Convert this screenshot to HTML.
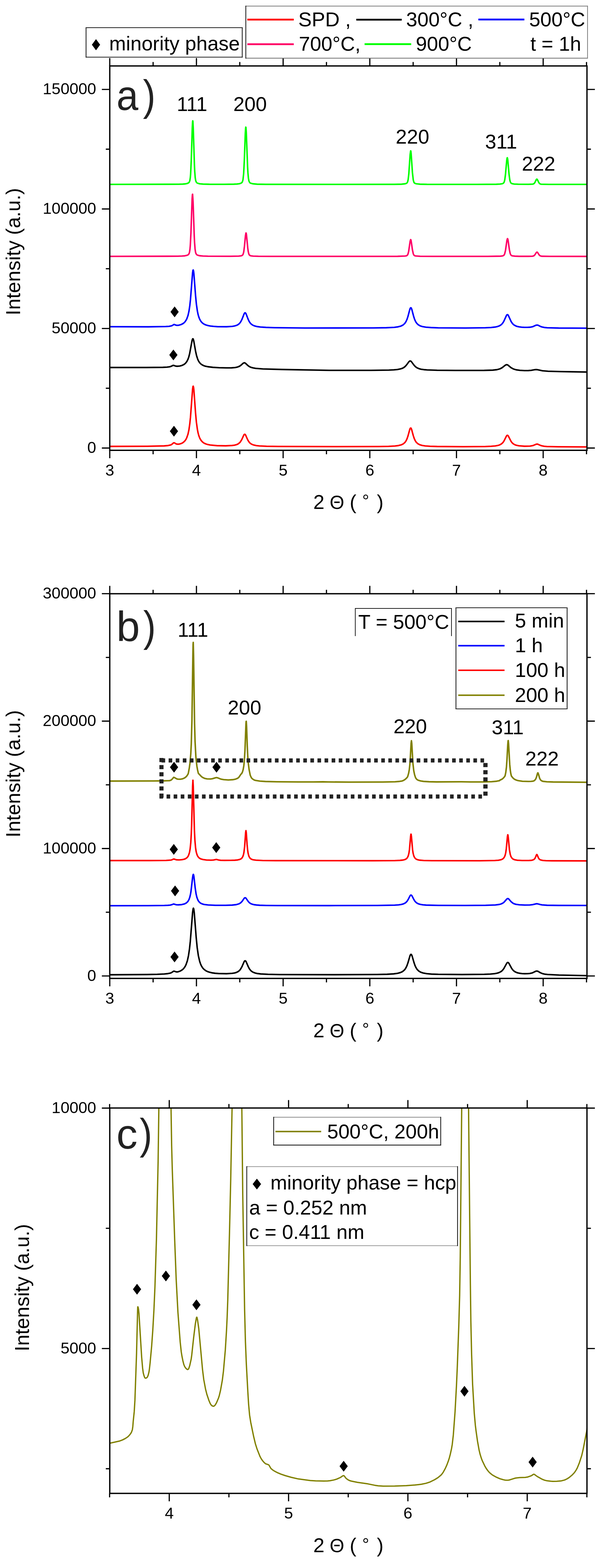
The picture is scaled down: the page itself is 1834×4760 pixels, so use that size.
<!DOCTYPE html><html><head><meta charset="utf-8"><style>html,body{margin:0;padding:0;background:#fff;}svg{display:block;}</style></head><body>
<svg width="1834" height="4760" viewBox="0 0 1834 4760" font-family="Liberation Sans, Arial, sans-serif" fill="#000">
<rect width="1834" height="4760" fill="#fff"/>
<defs>
<clipPath id="ca"><rect x="333.3" y="200.2" width="1449" height="1166.8"/></clipPath>
<clipPath id="cb"><rect x="333.3" y="1802.4" width="1449" height="1167.8"/></clipPath>
<clipPath id="cc"><rect x="333.3" y="3363.6" width="1449" height="1169.9"/></clipPath>
</defs>
<path d="M333.3 559.8L542.3 559.3L554.8 558.9L563.3 558.1L568.8 556.9L572.8 554.9L574.8 552.6L576.3 548.7L577.8 539.7L578.8 528.5L580.8 486.2L583.8 388.9L584.8 369.4L585.3 366.8L585.8 369.4L586.8 388.9L590.3 499.5L591.3 520.6L592.8 539.7L594.3 548.7L596.3 553.4L597.8 554.9L599.8 556.1L606.3 558L616.8 558.9L635.8 559.4L680.3 559.5L709.8 559.1L719.8 558.6L726.8 557.7L731.8 556.1L734.8 553.9L736.3 551.2L737.8 545.5L739.8 527.3L741.8 488.6L744.8 405.8L745.8 388.8L746.3 385.9L746.8 387.1L747.8 401.4L751.8 506.8L752.8 524.5L754.3 541L755.8 549.1L757.8 553.6L759.3 555.1L761.3 556.3L767.3 557.9L780.8 559.1L807.8 559.6L1021.3 559.8L1197.3 559.6L1219.3 559.1L1230.3 557.9L1234.3 556.6L1236.3 554.7L1237.8 551.6L1239.3 545.3L1241.3 528.3L1245.3 469.5L1246.8 458L1247.3 458.2L1248.3 464.9L1252.3 523.5L1254.8 545.9L1256.3 551.9L1257.8 554.9L1260.3 556.9L1264.3 558L1275.3 559.1L1296.3 559.6L1447.8 559.7L1506.8 559.4L1518.3 558.8L1525.3 557.7L1527.8 556.7L1529.8 554.7L1531.3 551.4L1532.8 545.1L1534.8 529.9L1538.8 485.4L1539.8 479.6L1540.3 478.8L1540.8 479.6L1541.8 485.4L1545.8 529.9L1547.8 545.1L1548.8 549.7L1550.3 553.8L1551.8 555.9L1554.3 557.4L1561.3 558.7L1573.8 559.3L1604.3 559.5L1617.8 559L1620.8 557.9L1622.8 556L1624.8 552.7L1628.3 545.2L1629.8 543.8L1630.8 544.1L1631.8 545.4L1635.8 553.8L1637.8 556.7L1640.3 558.5L1643.3 559.2L1667.3 559.7L1782.3 559.8" fill="none" stroke="#00ff00" stroke-width="4.6" stroke-linejoin="round" stroke-linecap="round" clip-path="url(#ca)"/>
<path d="M333.3 778.2L539.8 777.8L552.8 777.3L561.3 776.6L567.3 775.3L571.3 773.5L573.8 770.5L575.3 766.2L576.8 756.9L577.8 745.8L579.8 706.2L583.3 604L584.3 590.1L584.8 589.6L586.3 613.5L589.8 716.1L590.8 736.5L592.3 756L593.8 765.8L594.8 769.2L596.3 771.9L597.8 773.4L600.3 774.8L606.8 776.4L616.3 777.3L631.3 777.8L698.8 778L724.8 777.5L731.3 776.8L734.8 775.7L736.3 774.7L737.8 772.5L739.3 768.1L740.3 763.2L742.3 747.3L745.3 715.4L746.8 707.3L747.3 707.5L748.3 712.2L752.3 753L753.8 763.8L755.3 770.3L756.8 773.6L758.8 775.5L762.3 776.7L768.8 777.5L784.8 778L819.3 778.2L1131.8 778.3L1207.3 778.1L1229.8 777.3L1233.3 776.8L1235.8 775.7L1237.3 774.2L1238.8 771.2L1240.8 763.5L1245.3 732.6L1246.8 727.4L1247.3 727.5L1248.3 730.5L1252.3 758.3L1254.8 770L1255.8 772.6L1257.3 774.9L1259.3 776.3L1261.8 777L1275.8 778L1312.8 778.3L1481.3 778.2L1519.8 777.6L1525.3 777L1528.3 776.1L1530.8 773.9L1532.3 770.9L1534.8 760.8L1539.3 729.4L1540.8 724.4L1541.3 724.5L1541.8 725.5L1542.8 730L1546.8 758.4L1548.8 768.1L1549.8 771.2L1551.3 774.1L1553.3 775.9L1555.8 776.8L1563.3 777.6L1576.8 778.1L1605.3 778.1L1617.3 777.7L1620.3 776.8L1622.3 775.5L1624.3 773.2L1628.3 767L1630.3 765.3L1631.3 765.6L1632.3 766.5L1636.8 773.4L1638.8 775.6L1641.3 777.1L1645.3 777.9L1670.3 778.3L1782.3 778.4" fill="none" stroke="#ff0066" stroke-width="4.6" stroke-linejoin="round" stroke-linecap="round" clip-path="url(#ca)"/>
<path d="M333.3 991.8L450.3 992.1L502.8 991.3L512.8 990.7L519.3 989.6L522.8 988.4L528.3 985L529.8 985.2L533.3 986.8L535.8 987.5L538.8 987.6L542.8 987.2L550.3 985.1L556.3 981.9L559.3 979.5L562.3 976.3L566.8 969L570.8 957.9L573.8 944.6L576.3 928L578.3 909.7L584.8 827.9L585.8 821.2L586.3 819.8L586.8 819.6L587.8 823.4L588.8 831.8L593.8 897.4L596.3 923.1L599.3 944.2L601.3 953.8L603.3 961.1L605.8 967.9L608.3 972.8L611.3 977.1L615.3 981.1L619.8 984.1L624.8 986.4L631.3 988.3L638.8 989.7L648.3 990.8L660.3 991.6L687.8 991.9L705.8 990.7L712.3 989.5L717.8 987.9L721.3 986.3L724.8 984L727.8 981.1L730.3 977.9L734.3 970.5L741.3 952.6L742.8 950.2L744.3 949.4L745.8 950.5L747.3 953.1L753.3 968.8L756.3 975.2L759.3 979.9L762.3 983.3L767.3 987L773.3 989.6L780.8 991.4L790.8 992.7L807.8 993.9L833.8 994.7L926.3 995.7L1132.8 995.5L1173.3 994.9L1197.3 993.7L1208.8 992.1L1217.3 989.9L1223.8 986.6L1228.8 982.1L1232.3 977.1L1235.8 969.6L1238.8 960.4L1244.3 939.5L1245.8 935.6L1247.3 934.1L1248.8 935.2L1250.3 938.9L1255.8 959.7L1258.8 969.1L1261.8 975.9L1265.3 981.3L1269.8 985.7L1275.8 989.2L1283.3 991.6L1293.3 993.2L1308.8 994.4L1330.8 995.2L1412.8 995.7L1473.8 995L1490.8 994.2L1502.8 992.9L1509.8 991.5L1515.3 989.6L1519.8 987.2L1523.8 983.9L1526.8 980.3L1529.8 975.4L1537.8 957.7L1539.3 955.7L1540.8 955.1L1542.3 955.9L1543.8 958.1L1551.8 975.7L1554.3 979.8L1557.3 983.5L1560.8 986.6L1565.3 989.1L1570.3 991L1576.3 992.3L1583.8 993.3L1592.3 993.8L1601.3 993.8L1608.8 993.4L1617.8 991.7L1627.8 987.2L1630.8 986.7L1633.8 987.3L1641.3 991.1L1646.3 992.8L1652.8 994.1L1661.8 995L1696.3 995.9L1782.3 996.2" fill="none" stroke="#0000ff" stroke-width="4.6" stroke-linejoin="round" stroke-linecap="round" clip-path="url(#ca)"/>
<path d="M333.3 1115.6L443.3 1115.6L494.3 1115.1L507.3 1114.5L514.8 1113.5L519.3 1112.2L525.8 1109.1L527.8 1109.3L533.3 1111.4L537.8 1111.9L545.3 1111.2L552.3 1109.4L558.3 1106.6L563.3 1102.7L567.3 1097.5L570.8 1090.6L573.3 1083.4L575.8 1073.6L583.3 1033.2L584.8 1028.9L585.8 1028.3L586.8 1029.7L588.3 1034.9L593.8 1065.9L596.8 1079.5L600.3 1090.4L602.3 1094.9L604.8 1099.1L607.8 1102.9L610.8 1105.6L614.3 1107.9L618.8 1110.1L623.8 1111.7L630.3 1113.1L646.3 1115.1L665.3 1116.3L687.3 1116.8L703.3 1116.6L714.3 1115.7L721.3 1114.2L726.8 1112L731.3 1109L738.3 1102.8L740.3 1101.7L741.8 1101.3L743.3 1101.6L745.3 1102.7L752.3 1109.2L755.8 1112L759.3 1113.9L763.3 1115.6L769.3 1117.1L776.3 1118.3L798.3 1120L855.8 1121.6L999.8 1124.3L1126.3 1124.2L1180.8 1123.5L1195.8 1122.8L1206.8 1121.7L1215.3 1120.1L1221.8 1118L1226.3 1115.6L1230.3 1112.4L1234.3 1108L1241.8 1097.9L1243.8 1096.2L1245.3 1095.7L1247.3 1096.2L1249.3 1098L1256.3 1107.5L1260.3 1112.1L1263.8 1115L1267.3 1117.1L1272.3 1119.2L1278.8 1120.9L1286.8 1122.1L1297.3 1123L1327.3 1124L1381.8 1124.5L1470.3 1124.4L1496.3 1123.6L1509.3 1122.1L1518.3 1119.6L1524.8 1116.1L1534.8 1108.2L1538.3 1107L1540.3 1107.3L1542.3 1108.4L1551.8 1116.2L1558.8 1120.1L1567.3 1122.6L1578.8 1124.3L1592.3 1125L1604.8 1124.9L1612.8 1124.2L1623.8 1122.2L1627.8 1121.9L1631.8 1122.3L1646.8 1125.5L1664.3 1127L1700.3 1128L1782.3 1129.4" fill="none" stroke="#000000" stroke-width="4.6" stroke-linejoin="round" stroke-linecap="round" clip-path="url(#ca)"/>
<path d="M333.3 1355.1L447.3 1354.7L498.3 1353.6L510.3 1352.6L517.3 1351.1L521.3 1349.3L526.3 1345L527.8 1344.1L529.8 1344.4L533.3 1346.7L535.8 1347.9L540.8 1348.5L544.8 1348L548.8 1346.9L552.8 1345.3L556.3 1343.1L559.3 1340.6L562.3 1337.3L564.8 1333.5L566.8 1329.5L570.8 1317.9L573.8 1303.9L576.3 1286.4L578.3 1267.2L584.8 1181.1L585.8 1174.1L586.3 1172.6L586.8 1172.4L587.8 1176.3L588.8 1185.2L593.8 1254.2L596.3 1281.2L599.3 1303.3L601.3 1313.5L603.3 1321.2L605.8 1328.3L608.3 1333.4L611.3 1337.9L615.3 1342.1L619.8 1345.3L624.8 1347.6L631.3 1349.6L638.8 1351L658.8 1352.9L685.3 1353.4L704.8 1352.4L711.8 1351.5L717.3 1350.1L721.3 1348.5L724.3 1346.8L729.3 1342.2L733.8 1335.1L740.3 1320.7L741.8 1318.7L742.8 1318.2L744.3 1318.8L745.8 1320.9L751.3 1333.4L754.3 1339L757.3 1343.2L760.3 1346.1L764.8 1348.9L770.8 1351.1L778.3 1352.7L787.8 1353.7L809.3 1354.7L845.3 1355.3L1021.8 1355.8L1150.8 1355.5L1179.8 1355L1198.8 1354L1209.8 1352.6L1218.3 1350.5L1224.3 1347.6L1229.3 1343.4L1232.8 1338.5L1235.8 1332.3L1238.8 1323.5L1244.3 1303.4L1245.8 1300L1246.8 1299.2L1247.3 1299.2L1248.3 1300.2L1249.8 1303.7L1254.8 1322.1L1257.8 1331.3L1260.8 1337.8L1263.8 1342.4L1268.3 1346.7L1274.3 1350L1281.8 1352.2L1291.3 1353.7L1305.8 1354.7L1327.3 1355.4L1406.8 1356L1473.8 1355.5L1491.3 1354.8L1503.8 1353.7L1510.3 1352.6L1515.8 1351.1L1520.3 1349L1524.3 1346.2L1527.3 1343.1L1530.3 1338.7L1537.8 1323.8L1539.3 1322L1540.8 1321.4L1541.8 1321.7L1543.3 1323.4L1551.3 1339L1553.8 1342.7L1556.8 1345.9L1560.3 1348.5L1564.3 1350.5L1569.3 1352.1L1575.3 1353.3L1592.3 1354.6L1609.3 1354.2L1617.8 1352.8L1627.8 1348.7L1630.8 1348.1L1633.8 1348.8L1640.8 1352L1645.8 1353.6L1652.3 1354.8L1660.8 1355.5L1694.8 1356.3L1782.3 1356.7" fill="none" stroke="#ff0000" stroke-width="4.6" stroke-linejoin="round" stroke-linecap="round" clip-path="url(#ca)"/>
<path d="M530.2 930.3L542.7 946.8L530.2 963.3L517.7 946.8Z" fill="#000"/>
<path d="M526.5 1061L539 1077.5L526.5 1094L514 1077.5Z" fill="#000"/>
<path d="M528.2 1292.5L540.7 1309L528.2 1325.5L515.7 1309Z" fill="#000"/>
<rect x="333.3" y="200.2" width="1449" height="1166.8" fill="none" stroke="#000" stroke-width="4.0"/>
<path d="M333.3 1367V1391M333.3 200.2V176.2M596.5 1367V1391M596.5 200.2V176.2M859.7 1367V1391M859.7 200.2V176.2M1122.9 1367V1391M1122.9 200.2V176.2M1386.1 1367V1391M1386.1 200.2V176.2M1649.3 1367V1391M1649.3 200.2V176.2M464.9 1367V1379M464.9 200.2V188.2M728.1 1367V1379M728.1 200.2V188.2M991.3 1367V1379M991.3 200.2V188.2M1254.5 1367V1379M1254.5 200.2V188.2M1517.7 1367V1379M1517.7 200.2V188.2M1780.9 1367V1379M1780.9 200.2V188.2M333.3 1360.1H309.3M1782.3 1360.1H1806.3M333.3 997.21H309.3M1782.3 997.21H1806.3M333.3 634.33H309.3M1782.3 634.33H1806.3M333.3 271.44H309.3M1782.3 271.44H1806.3M333.3 1178.66H321.3M1782.3 1178.66H1794.3M333.3 815.77H321.3M1782.3 815.77H1794.3M333.3 452.89H321.3M1782.3 452.89H1794.3" stroke="#000" stroke-width="3.6" fill="none"/>
<text x="333.3" y="1443.9" text-anchor="middle" font-size="48.6">3</text>
<text x="596.5" y="1443.9" text-anchor="middle" font-size="48.6">4</text>
<text x="859.7" y="1443.9" text-anchor="middle" font-size="48.6">5</text>
<text x="1122.9" y="1443.9" text-anchor="middle" font-size="48.6">6</text>
<text x="1386.1" y="1443.9" text-anchor="middle" font-size="48.6">7</text>
<text x="1649.3" y="1443.9" text-anchor="middle" font-size="48.6">8</text>
<text x="292" y="1375.1" text-anchor="end" font-size="48.6">0</text>
<text x="292" y="1012.21" text-anchor="end" font-size="48.6">50000</text>
<text x="292" y="649.33" text-anchor="end" font-size="48.6">100000</text>
<text x="292" y="286.44" text-anchor="end" font-size="48.6">150000</text>
<text x="353.5" y="334.4" font-size="128" fill="#222" transform="translate(358.5 0) scale(0.93 1) translate(-358.5 0)">a</text>
<text x="434" y="334.4" font-size="130" fill="#222" transform="translate(434 0) scale(0.88 1) translate(-434 0)">)</text>
<text x="583" y="336.7" font-size="61" text-anchor="middle">111</text>
<text x="759.3" y="336.7" font-size="61" text-anchor="middle">200</text>
<text x="1252.5" y="435.7" font-size="61" text-anchor="middle">220</text>
<text x="1521.5" y="450.7" font-size="61" text-anchor="middle">311</text>
<text x="1635.3" y="517.7" font-size="61" text-anchor="middle">222</text>
<rect x="261.3" y="84" width="474.2" height="89.5" fill="#fff"/>
<path d="M260.2 84H736.6" stroke="#000" stroke-width="2.2"/>
<path d="M260.2 173.5H736.6" stroke="#000" stroke-width="2.2"/>
<path d="M261.3 82.9V174.6" stroke="#000" stroke-width="2.2"/>
<path d="M735.5 82.9V174.6" stroke="#000" stroke-width="2.2"/>
<path d="M291.5 118.7L304 135.7L291.5 152.7L279 135.7Z" fill="#000"/>
<text x="331.6" y="153" font-size="61">minority phase</text>
<rect x="746.4" y="18.5" width="1037.6" height="158.1" fill="#fff"/>
<path d="M745.3 18.5H1785.1" stroke="#666" stroke-width="2.2"/>
<path d="M745.3 176.6H1785.1" stroke="#6a6a6a" stroke-width="2.2"/>
<path d="M746.4 17.4V177.7" stroke="#000" stroke-width="2.2"/>
<path d="M1784 17.4V177.7" stroke="#777" stroke-width="2.2"/>
<path d="M751 59.6H892" stroke="#ff0000" stroke-width="5.5"/>
<path d="M1081.8 59.7H1219.8" stroke="#000000" stroke-width="5.5"/>
<path d="M1452.5 59.2H1592.2" stroke="#0000ff" stroke-width="5.5"/>
<path d="M751 134.3H892" stroke="#ff0066" stroke-width="5.5"/>
<path d="M1107 134.1H1248.6" stroke="#00ff00" stroke-width="5.5"/>
<text x="905.8" y="79.6" font-size="61">SPD ,</text>
<text x="1233.3" y="79.6" font-size="61">300°C ,</text>
<text x="1606.7" y="79.6" font-size="61">500°C</text>
<text x="907.5" y="154" font-size="61">700°C,</text>
<text x="1262.4" y="154" font-size="61">900°C</text>
<text x="1610.4" y="154" font-size="61">t = 1h</text>
<text y="1544.7" font-size="61"><tspan x="951.3">2</tspan><tspan x="1000.9" font-size="57">Θ</tspan><tspan x="1061.8">(</tspan><tspan x="1099.9" y="1538.3" font-size="52">°</tspan><tspan x="1144.3" y="1544.7">)</tspan></text>
<text transform="translate(60.6 764) rotate(-90)" text-anchor="middle" font-size="61">Intensity (a.u.)</text>
<path d="M333.3 2371.1L465.3 2370.8L497.3 2370.4L513.3 2369.9L515.8 2369.6L520.3 2367.7L524.8 2363L526.8 2359.9L527.3 2359.8L529.8 2360.4L535.8 2364L539.3 2365.2L547.3 2365.5L553.3 2364.6L558.3 2362.7L562.8 2360L566.3 2356.8L569.3 2352.7L571.3 2349.2L572.3 2344.7L574.8 2331.4L576.8 2317.2L579.3 2288.6L580.8 2258.9L582.8 2186.9L585.8 1978.2L586.3 1955.6L586.8 1950L587.8 1990.9L590.8 2196.5L592.3 2251L594.8 2298.3L597.8 2325.6L599.8 2336.9L602.3 2347.7L611.8 2357.6L615.8 2360.4L621.3 2362.9L628.8 2364.5L639.3 2364.8L644.8 2364L653.8 2361.2L657.3 2360.6L661.8 2361.6L671.3 2365.3L679.3 2366.8L693.3 2367.8L706.8 2366.9L715.3 2365.2L719.8 2363.4L722.8 2361.7L725.3 2359.6L731.8 2350L733.8 2348.4L736.3 2343.4L738.3 2336.4L740.3 2324.8L741.8 2310.7L743.8 2278.3L746.8 2197.3L747.3 2190.4L747.8 2189.7L748.8 2206.5L750.8 2264.2L752.3 2295.8L753.8 2315.8L756.3 2335.8L759.8 2353.4L763.3 2361.1L765.8 2363.8L770.3 2367L773.3 2368.4L776.8 2369.2L789.3 2371.2L806.3 2372.4L840.8 2373.2L906.8 2373.8L951.3 2373.8L980.8 2373.4L996.8 2373.8L1059.3 2374.2L1162.3 2374L1199.8 2373.2L1213.3 2372.1L1220.8 2370.9L1224.8 2369.3L1228.8 2367L1231.8 2364.7L1235.8 2360.6L1237.3 2358.5L1238.3 2356.1L1240.8 2347.2L1242.8 2336.1L1244.3 2322.8L1245.8 2302.3L1248.3 2256.1L1249.3 2248.5L1250.3 2256.1L1253.8 2316.9L1256.3 2339.5L1258.8 2351.6L1261.8 2360.9L1264.8 2365.3L1269.3 2368.4L1277.3 2370.8L1286.3 2372.1L1302.8 2373.1L1325.3 2373.6L1400.8 2373.3L1429.3 2373.8L1467.3 2373.8L1492.8 2373L1507.8 2371.6L1517.3 2369.8L1517.8 2368.4L1524.3 2365.3L1527.3 2363L1530.3 2359.9L1533.3 2355.9L1533.8 2354.2L1535.8 2344.8L1537.8 2328.2L1539.3 2307.7L1541.8 2259.9L1542.8 2248.6L1543.3 2248.2L1544.3 2258.3L1547.8 2321L1549.3 2336.9L1550.8 2347.1L1552.3 2353.9L1553.3 2356.6L1558.3 2362.5L1561.3 2364.9L1564.3 2366.7L1568.3 2368.4L1573.3 2369.8L1586.3 2371.7L1604.8 2372.3L1612.8 2372L1619.3 2371.2L1623.3 2369.1L1626.3 2365.6L1628.8 2359.7L1631.8 2348.5L1632.8 2346.3L1633.3 2346.1L1634.8 2349.2L1638.3 2361.8L1640.3 2366.1L1641.8 2368.1L1643.8 2369.8L1648.3 2371.9L1660.3 2373.2L1679.3 2373.9L1782.3 2374.7" fill="none" stroke="#808000" stroke-width="4.6" stroke-linejoin="round" stroke-linecap="round" clip-path="url(#cb)"/>
<path d="M333.3 2612.4L456.3 2612.4L504.3 2612L518.8 2611L521.8 2610.3L526.8 2607.9L528.3 2607.7L535.3 2610.1L543.8 2610.5L552.3 2609.8L558.8 2608.5L563.8 2606.5L567.8 2603.6L570.3 2600.7L572.3 2597.2L575.3 2588.1L577.3 2577.2L579.3 2557.7L580.8 2532.3L581.8 2506.7L584.8 2387L585.8 2368.6L586.8 2387L590.3 2520.6L591.8 2550.6L593.8 2573.4L595.3 2583.4L596.8 2590.1L598.8 2596.1L600.8 2599.9L603.3 2603.2L606.8 2605.9L610.8 2607.8L616.3 2609.3L626.8 2610.7L640.8 2611.2L648.3 2610.7L656.8 2608.9L663.8 2610.8L669.8 2611.6L681.8 2611.9L700.3 2611.8L712.8 2611.4L721.3 2610.6L727.3 2609.3L731.8 2607.2L734.8 2604.5L737.3 2600.3L739.3 2594.4L740.8 2587L742.8 2570L745.8 2527.7L746.8 2521.6L747.8 2527.7L750.3 2564L751.8 2579.9L753.3 2589.9L755.3 2597.8L756.8 2601.4L758.3 2603.9L760.3 2606.1L762.3 2607.6L764.8 2608.9L768.3 2610L777.3 2611.3L797.3 2612.2L837.8 2612.6L1132.3 2612.9L1199.3 2612.5L1214.3 2611.9L1223.8 2610.9L1229.8 2609.3L1234.3 2606.7L1237.3 2603.1L1239.8 2597.5L1241.8 2589.2L1243.3 2579L1246.8 2538.7L1247.8 2532.2L1248.3 2532.5L1249.3 2539.8L1252.8 2579.8L1254.3 2589.8L1256.3 2597.8L1258.8 2603.3L1262.3 2607.2L1266.8 2609.5L1273.3 2611.1L1286.8 2612.2L1311.8 2612.7L1457.3 2613L1502.3 2612.3L1513.3 2611.5L1520.8 2610.1L1525.8 2608L1529.3 2605.1L1532.3 2600.2L1534.3 2594.4L1535.8 2587.4L1537.3 2576.8L1540.8 2539.1L1541.8 2534.2L1542.3 2534.9L1543.3 2541.9L1546.8 2579.3L1549.3 2593.6L1551.3 2599.8L1553.8 2604.2L1557.3 2607.6L1561.8 2609.7L1570.8 2611.5L1585.3 2612.3L1605.3 2612.3L1611.8 2611.9L1616.3 2611.2L1620.3 2609.7L1623.3 2607.2L1625.3 2604L1628.8 2595.4L1629.8 2594.1L1630.3 2594.2L1631.3 2595.6L1634.8 2604.2L1637.3 2607.9L1639.3 2609.5L1641.3 2610.6L1647.8 2612L1657.8 2612.7L1675.8 2613.1L1782.3 2613.4" fill="none" stroke="#ff0000" stroke-width="4.6" stroke-linejoin="round" stroke-linecap="round" clip-path="url(#cb)"/>
<path d="M333.3 2749.5L449.8 2749.3L498.8 2748.8L509.8 2748.3L516.3 2747.7L520.3 2746.8L526.8 2744.3L528.8 2744.6L534.8 2746.5L541.3 2746.9L551.8 2746.1L560.3 2744L565.8 2741.1L570.3 2736.8L573.8 2730.8L576.3 2723.7L578.3 2715.3L579.8 2706.7L584.8 2664.1L585.8 2657.4L586.8 2654.4L587.3 2654.5L587.8 2655.7L588.8 2661.1L592.8 2696.4L595.3 2713.2L597.8 2724L600.8 2732L602.8 2735.5L605.3 2738.6L608.3 2741.2L611.3 2742.9L615.3 2744.5L619.8 2745.7L632.3 2747.3L654.3 2748.2L684.8 2748.3L704.8 2747.6L717.8 2746.1L725.3 2743.9L730.8 2740.7L734.8 2736.6L741.3 2727.2L742.8 2725.7L744.3 2725.2L745.8 2725.7L747.3 2727.2L752.8 2735.3L755.8 2738.9L758.8 2741.5L761.8 2743.3L766.3 2745.1L771.8 2746.4L779.3 2747.4L788.8 2748.1L808.8 2748.7L841.8 2749L999.3 2749.1L1145.8 2748.8L1198.3 2747.8L1209.8 2747L1218.3 2745.8L1224.8 2744L1229.8 2741.6L1233.3 2738.9L1236.3 2735.5L1239.3 2730.8L1244.8 2720L1246.3 2717.9L1247.8 2717.1L1249.3 2717.6L1250.8 2719.4L1256.8 2731L1259.8 2735.7L1262.8 2739L1265.8 2741.4L1270.3 2743.7L1276.3 2745.5L1283.8 2746.7L1293.8 2747.6L1330.8 2748.5L1411.8 2748.7L1474.3 2748.3L1503.8 2747.2L1516.3 2745.6L1520.8 2744.4L1524.8 2742.7L1527.8 2740.9L1530.8 2738.4L1538.8 2729.4L1540.3 2728.2L1541.8 2727.8L1543.3 2728.1L1544.8 2729.2L1552.8 2738.2L1558.3 2742.3L1561.8 2743.8L1566.3 2745.2L1577.3 2746.8L1593.3 2747.5L1608.8 2747.3L1617.3 2746.3L1626.8 2743.9L1629.8 2743.5L1632.8 2743.9L1640.8 2746L1645.8 2747L1661.3 2748.1L1695.8 2748.6L1782.3 2748.7" fill="none" stroke="#0000ff" stroke-width="4.6" stroke-linejoin="round" stroke-linecap="round" clip-path="url(#cb)"/>
<path d="M333.3 2959.1L445.8 2958.4L477.3 2957.7L498.8 2956.7L509.8 2955.6L516.8 2954.2L520.8 2952.6L525.8 2949.1L527.8 2948.2L529.3 2948.3L535.3 2950.4L538.3 2950.4L541.3 2949.9L547.8 2947.6L553.8 2943.8L556.8 2941.1L559.8 2937.4L562.3 2933.5L564.8 2928.4L568.8 2916.9L572.3 2901.2L575.3 2881.2L577.8 2858L584.8 2770.1L586.3 2759.2L587.3 2757L588.3 2759.2L589.8 2770.1L595.8 2846.8L598.8 2877.1L602.3 2901.2L606.3 2918.6L609.3 2927.2L612.3 2933.5L615.8 2938.8L619.8 2943L624.8 2946.7L630.3 2949.5L636.8 2951.6L644.8 2953.4L653.3 2954.6L663.8 2955.4L687.8 2955.9L705.3 2954.8L711.8 2953.8L717.3 2952.2L720.8 2950.7L724.3 2948.5L727.3 2945.9L729.8 2943L734.3 2935.4L741.3 2919.4L742.8 2917.2L744.3 2916.5L745.8 2917.3L747.3 2919.4L753.8 2934.5L756.8 2940.3L759.8 2944.5L763.3 2948.1L768.3 2951.4L774.3 2953.7L781.8 2955.4L791.8 2956.6L813.8 2957.8L849.3 2958.5L1012.8 2958.9L1144.3 2958.3L1175.3 2957.6L1195.3 2956.4L1207.3 2954.8L1216.3 2952.3L1222.8 2949.1L1228.3 2944.3L1231.8 2939.4L1235.3 2932.4L1238.8 2922.5L1244.8 2901.8L1246.3 2898.4L1247.8 2897L1249.3 2897.8L1251.3 2902.1L1257.3 2922.8L1260.3 2931.4L1263.3 2937.8L1266.8 2943.2L1271.8 2948L1277.8 2951.5L1285.8 2954.1L1295.8 2955.8L1310.3 2957.1L1330.8 2957.8L1402.8 2958.4L1470.3 2957.8L1488.8 2957L1501.8 2955.7L1508.8 2954.5L1514.8 2952.7L1519.8 2950.3L1523.8 2947.5L1526.8 2944.4L1529.8 2940.4L1538.8 2924L1540.3 2922.4L1541.8 2921.7L1543.3 2922.2L1545.3 2924.4L1553.3 2939.2L1556.3 2943.5L1559.3 2946.7L1562.8 2949.4L1567.3 2951.8L1572.3 2953.5L1577.8 2954.6L1584.8 2955.5L1592.8 2955.9L1601.8 2955.8L1608.3 2955.3L1616.3 2953.5L1626.3 2948.6L1629.8 2947.7L1633.3 2948.6L1641.3 2953.2L1646.8 2955.5L1653.8 2957.2L1662.8 2958.3L1697.3 2960L1782.3 2961.8" fill="none" stroke="#000000" stroke-width="4.6" stroke-linejoin="round" stroke-linecap="round" clip-path="url(#cb)"/>
<path d="M528.5 2312.5L541 2329L528.5 2345.5L516 2329Z" fill="#000"/>
<path d="M657.4 2312.5L669.9 2329L657.4 2345.5L644.9 2329Z" fill="#000"/>
<path d="M527.7 2561.9L540.2 2578.4L527.7 2594.9L515.2 2578.4Z" fill="#000"/>
<path d="M656.6 2556.5L669.1 2573L656.6 2589.5L644.1 2573Z" fill="#000"/>
<path d="M531.6 2688L544.1 2704.5L531.6 2721L519.1 2704.5Z" fill="#000"/>
<path d="M530 2888.5L542.5 2905L530 2921.5L517.5 2905Z" fill="#000"/>
<path d="M490.5 2302.15h11v12.5h-11zM484.2 2411.65h11v12.5h-11zM512.02 2302.15h11v12.5h-11zM505.72 2411.65h11v12.5h-11zM533.54 2302.15h11v12.5h-11zM527.24 2411.65h11v12.5h-11zM555.06 2302.15h11v12.5h-11zM548.76 2411.65h11v12.5h-11zM576.58 2302.15h11v12.5h-11zM570.28 2411.65h11v12.5h-11zM598.1 2302.15h11v12.5h-11zM591.8 2411.65h11v12.5h-11zM619.62 2302.15h11v12.5h-11zM613.32 2411.65h11v12.5h-11zM641.14 2302.15h11v12.5h-11zM634.84 2411.65h11v12.5h-11zM662.66 2302.15h11v12.5h-11zM656.36 2411.65h11v12.5h-11zM684.18 2302.15h11v12.5h-11zM677.88 2411.65h11v12.5h-11zM705.7 2302.15h11v12.5h-11zM699.4 2411.65h11v12.5h-11zM727.22 2302.15h11v12.5h-11zM720.92 2411.65h11v12.5h-11zM748.74 2302.15h11v12.5h-11zM742.44 2411.65h11v12.5h-11zM770.26 2302.15h11v12.5h-11zM763.96 2411.65h11v12.5h-11zM791.78 2302.15h11v12.5h-11zM785.48 2411.65h11v12.5h-11zM813.3 2302.15h11v12.5h-11zM807 2411.65h11v12.5h-11zM834.82 2302.15h11v12.5h-11zM828.52 2411.65h11v12.5h-11zM856.34 2302.15h11v12.5h-11zM850.04 2411.65h11v12.5h-11zM877.86 2302.15h11v12.5h-11zM871.56 2411.65h11v12.5h-11zM899.38 2302.15h11v12.5h-11zM893.08 2411.65h11v12.5h-11zM920.9 2302.15h11v12.5h-11zM914.6 2411.65h11v12.5h-11zM942.42 2302.15h11v12.5h-11zM936.12 2411.65h11v12.5h-11zM963.94 2302.15h11v12.5h-11zM957.64 2411.65h11v12.5h-11zM985.46 2302.15h11v12.5h-11zM979.16 2411.65h11v12.5h-11zM1006.98 2302.15h11v12.5h-11zM1000.68 2411.65h11v12.5h-11zM1028.5 2302.15h11v12.5h-11zM1022.2 2411.65h11v12.5h-11zM1050.02 2302.15h11v12.5h-11zM1043.72 2411.65h11v12.5h-11zM1071.54 2302.15h11v12.5h-11zM1065.24 2411.65h11v12.5h-11zM1093.06 2302.15h11v12.5h-11zM1086.76 2411.65h11v12.5h-11zM1114.58 2302.15h11v12.5h-11zM1108.28 2411.65h11v12.5h-11zM1136.1 2302.15h11v12.5h-11zM1129.8 2411.65h11v12.5h-11zM1157.62 2302.15h11v12.5h-11zM1151.32 2411.65h11v12.5h-11zM1179.14 2302.15h11v12.5h-11zM1172.84 2411.65h11v12.5h-11zM1200.66 2302.15h11v12.5h-11zM1194.36 2411.65h11v12.5h-11zM1222.18 2302.15h11v12.5h-11zM1215.88 2411.65h11v12.5h-11zM1243.7 2302.15h11v12.5h-11zM1237.4 2411.65h11v12.5h-11zM1265.22 2302.15h11v12.5h-11zM1258.92 2411.65h11v12.5h-11zM1286.74 2302.15h11v12.5h-11zM1280.44 2411.65h11v12.5h-11zM1308.26 2302.15h11v12.5h-11zM1301.96 2411.65h11v12.5h-11zM1329.78 2302.15h11v12.5h-11zM1323.48 2411.65h11v12.5h-11zM1351.3 2302.15h11v12.5h-11zM1345 2411.65h11v12.5h-11zM1372.82 2302.15h11v12.5h-11zM1366.52 2411.65h11v12.5h-11zM1394.34 2302.15h11v12.5h-11zM1388.04 2411.65h11v12.5h-11zM1415.86 2302.15h11v12.5h-11zM1409.56 2411.65h11v12.5h-11zM1437.38 2302.15h11v12.5h-11zM1431.08 2411.65h11v12.5h-11zM1458.9 2302.15h11v12.5h-11zM1452.6 2411.65h11v12.5h-11zM484.05 2300.95h12.5v12.5h-12.5zM484.05 2322.55h12.5v12.5h-12.5zM484.05 2344.15h12.5v12.5h-12.5zM484.05 2365.75h12.5v12.5h-12.5zM484.05 2387.35h12.5v12.5h-12.5zM484.05 2408.95h12.5v12.5h-12.5zM1467.5 2316.25h13v12.5h-13zM1467.5 2337.95h13v12.5h-13zM1467.5 2359.65h13v12.5h-13zM1467.5 2381.35h13v12.5h-13zM1467.5 2403.05h13v12.5h-13z" fill="#232323"/>
<rect x="333.3" y="1802.4" width="1449" height="1167.8" fill="none" stroke="#000" stroke-width="4.0"/>
<path d="M333.3 2970.2V2994.2M333.3 1802.4V1778.4M596.5 2970.2V2994.2M596.5 1802.4V1778.4M859.7 2970.2V2994.2M859.7 1802.4V1778.4M1122.9 2970.2V2994.2M1122.9 1802.4V1778.4M1386.1 2970.2V2994.2M1386.1 1802.4V1778.4M1649.3 2970.2V2994.2M1649.3 1802.4V1778.4M464.9 2970.2V2982.2M464.9 1802.4V1790.4M728.1 2970.2V2982.2M728.1 1802.4V1790.4M991.3 2970.2V2982.2M991.3 1802.4V1790.4M1254.5 2970.2V2982.2M1254.5 1802.4V1790.4M1517.7 2970.2V2982.2M1517.7 1802.4V1790.4M1780.9 2970.2V2982.2M1780.9 1802.4V1790.4M333.3 2962.7H309.3M1782.3 2962.7H1806.3M333.3 2575.9H309.3M1782.3 2575.9H1806.3M333.3 2189.1H309.3M1782.3 2189.1H1806.3M333.3 1802.3H309.3M1782.3 1802.3H1806.3M333.3 2769.3H321.3M1782.3 2769.3H1794.3M333.3 2382.5H321.3M1782.3 2382.5H1794.3M333.3 1995.7H321.3M1782.3 1995.7H1794.3" stroke="#000" stroke-width="3.6" fill="none"/>
<text x="333.3" y="3047.1" text-anchor="middle" font-size="48.6">3</text>
<text x="596.5" y="3047.1" text-anchor="middle" font-size="48.6">4</text>
<text x="859.7" y="3047.1" text-anchor="middle" font-size="48.6">5</text>
<text x="1122.9" y="3047.1" text-anchor="middle" font-size="48.6">6</text>
<text x="1386.1" y="3047.1" text-anchor="middle" font-size="48.6">7</text>
<text x="1649.3" y="3047.1" text-anchor="middle" font-size="48.6">8</text>
<text x="292" y="2977.7" text-anchor="end" font-size="48.6">0</text>
<text x="292" y="2590.9" text-anchor="end" font-size="48.6">100000</text>
<text x="292" y="2204.1" text-anchor="end" font-size="48.6">200000</text>
<text x="292" y="1817.3" text-anchor="end" font-size="48.6">300000</text>
<text x="353.5" y="1946" font-size="128" fill="#222">b</text>
<text x="435" y="1946" font-size="130" fill="#222" transform="translate(435 0) scale(0.88 1) translate(-435 0)">)</text>
<text x="585.8" y="1932.7" font-size="61" text-anchor="middle">111</text>
<text x="742.5" y="2168.7" font-size="61" text-anchor="middle">200</text>
<text x="1245.6" y="2225.9" font-size="61" text-anchor="middle">220</text>
<text x="1541.6" y="2228.5" font-size="61" text-anchor="middle">311</text>
<text x="1645.9" y="2324.4" font-size="61" text-anchor="middle">222</text>
<path d="M1078.8 1931V1847.1H1370.9V1931" fill="none" stroke="#000" stroke-width="2"/>
<text x="1087.8" y="1909.4" font-size="61">T = 500°C</text>
<rect x="1384.5" y="1845" width="337.5" height="307" fill="#fff"/>
<path d="M1383.4 1845H1723.1" stroke="#000" stroke-width="2.2"/>
<path d="M1383.4 2152H1723.1" stroke="#000" stroke-width="2.2"/>
<path d="M1384.5 1843.9V2153.1" stroke="#000" stroke-width="2.2"/>
<path d="M1722 1843.9V2153.1" stroke="#000" stroke-width="2.2"/>
<path d="M1391.4 1886.6H1532" stroke="#000000" stroke-width="4.6"/>
<text x="1563.5" y="1904.6" font-size="61">5 min</text>
<path d="M1391.4 1960.1H1532" stroke="#0000ff" stroke-width="4.6"/>
<text x="1563.5" y="1980.1" font-size="61">1 h</text>
<path d="M1391.4 2034.7H1532" stroke="#ff0000" stroke-width="4.6"/>
<text x="1563.5" y="2054.7" font-size="61">100 h</text>
<path d="M1391.4 2110.5H1532" stroke="#808000" stroke-width="4.6"/>
<text x="1563.5" y="2130.5" font-size="61">200 h</text>
<text y="3148.5" font-size="61"><tspan x="951.3">2</tspan><tspan x="1000.9" font-size="57">Θ</tspan><tspan x="1061.8">(</tspan><tspan x="1099.9" y="3142.1" font-size="52">°</tspan><tspan x="1144.3" y="3148.5">)</tspan></text>
<text transform="translate(60.6 2349) rotate(-90)" text-anchor="middle" font-size="61">Intensity (a.u.)</text>
<path d="M325 4384L333 4381.4L362.3 4374.8L372.1 4371.1L380 4367.1L387 4362.6L390 4360L394.4 4355.2L398 4350L399.5 4347.1L402 4339.8L403.3 4330.4L404.5 4315L407.6 4285.2L409.7 4250.4L414.6 4109.5L417.9 3974.8L418.2 3968L418.6 3967L419.4 3968.6L420.6 3974.4L422 3987.7L430.1 4119.6L433 4152.9L435 4167.9L437.5 4177L439.2 4181.3L440.1 4182.7L441.2 4183.6L442.8 4183.7L445.3 4182.6L447 4181L448.6 4178.1L450 4174.3L452.2 4165.6L453.5 4157.6L455.7 4138.1L460.4 4087.4L463.9 4038.6L467.4 3976.5L470.5 3906L475 3762.3L480.1 3525.7L486 3100L485.4 3030.6L481 2863.9L480.5 2787.4L483.6 2729.3L492 2700L494.6 2698L497.5 2696.9L500.5 2696.5L503.5 2696.9L506.4 2698L509 2700L517.3 2729.3L520.4 2787.4L520 2863.9L515.5 3030.6L515 3100L521.2 3478.8L523.1 3549.3L530.4 3763.1L535 3884.4L540.3 3984.1L547.1 4073.5L550.4 4104.2L552.5 4117L555.2 4130.4L558.1 4141.9L559.9 4146.6L561.9 4150.4L564.7 4154.1L567.7 4156.8L569.1 4157.5L570.4 4157.5L572.1 4156.2L573.5 4153.6L576.1 4145.6L580.5 4125.9L582.2 4113.7L588 4060.5L593.1 4019.2L596.3 4000.9L597.4 3998.5L598.2 3999.6L599.8 4006.7L603.4 4032.1L615 4158.1L618.7 4188L624 4216.4L628.2 4233L634.2 4250.9L638.1 4260.2L640.2 4263.8L643.5 4267.3L647.1 4268.9L649.5 4268.7L651.5 4267.3L653.6 4264.9L657.6 4258L663.7 4243.4L665.9 4236.3L669.7 4220.2L675.1 4189.9L678.5 4162.2L684.1 4098.7L687.7 4040.5L689.7 3999L691.6 3946.3L696.9 3739.4L700.6 3578.5L705.4 3324.8L707.5 3100L706.8 3030.5L702 2863.5L701.4 2786.9L704.2 2728.9L712 2700L714.3 2698.3L716.8 2697.2L719.5 2696.9L722.2 2697.2L724.7 2698.3L727 2700L734.8 2728.9L737.6 2786.9L737 2863.5L732.2 3030.5L731.5 3100L737.1 3627.2L742.7 3975L745.2 4072.1L748 4141L752.5 4224.5L754.9 4263.3L757.9 4296L761.4 4318.1L770.3 4361.3L775.5 4383L780.4 4398.5L789.4 4421.3L793.2 4428.4L797.1 4434L801.3 4439.1L805.7 4443L807.4 4443.9L814.3 4446.1L815.8 4447L817.2 4448.5L821.9 4456.7L823.4 4458.6L827.9 4462.3L833.1 4465.7L841.3 4470.1L853.1 4475.1L865.9 4479.5L884.4 4484.7L905.6 4489.6L942.2 4494.4L958.3 4495.6L982.9 4496.1L994.7 4495.8L1002.2 4495L1013.3 4492.9L1022.6 4490.1L1034 4485L1040.6 4480.4L1042.1 4479.7L1043.5 4479.6L1044.7 4480.1L1045.8 4481.2L1050 4487L1054.5 4490.8L1060 4494L1065.8 4496L1085.3 4500L1117 4504.6L1138 4508.9L1148.4 4510.5L1164 4511.4L1198.5 4511.3L1233.7 4510.1L1260.2 4508.1L1279.5 4505.8L1293.5 4502.9L1305.9 4498.8L1319.6 4492L1329.7 4485.7L1338.9 4478.1L1342 4474.6L1345.6 4469.6L1352 4458L1356.7 4447.6L1361.7 4434.2L1364.3 4426.1L1367.2 4415L1371 4397.9L1373.2 4385L1376.5 4355.9L1381.7 4286.2L1386 4207L1388.5 4150.7L1393.1 4024.8L1395.7 3932.5L1397.5 3818L1404.5 3100L1403.9 3030.2L1400.1 2861.9L1399.5 2785L1401.7 2727.4L1408 2700L1409.4 2698.9L1412.5 2698L1415.6 2698.9L1417 2700L1423.3 2727.4L1425.5 2785L1424.9 2861.9L1421.1 3030.2L1420.5 3100L1423.1 3399L1428.2 3895.3L1429.7 4010.3L1432 4111.1L1435 4202.2L1440.1 4290.3L1443.4 4327L1445.6 4344.7L1449.8 4374.3L1454.8 4402.4L1457.9 4415.2L1461.6 4427L1464.8 4435.2L1472 4450.2L1475.9 4457L1480.1 4463L1484.5 4468.4L1488 4471.9L1495.3 4477.7L1507.4 4484.4L1517.6 4488.8L1528.7 4492.1L1534.2 4493.2L1539.5 4493.6L1544.2 4493.3L1548.7 4492.2L1562.3 4487.8L1567 4486.7L1578.2 4485.6L1594.8 4484.9L1602.6 4483.7L1612.1 4480.4L1615.2 4478.8L1618.7 4476.1L1621 4475.3L1622.7 4475.9L1631 4482L1645.2 4490.1L1654 4493.6L1659.6 4494.9L1672 4496.6L1678.4 4496.9L1690.6 4496.8L1704.7 4495.4L1713.6 4493.1L1718 4491.3L1722.9 4488.7L1727.9 4485.5L1737.3 4477.7L1741.7 4473.2L1745.6 4468.4L1749.5 4462.5L1753 4456L1758.8 4441.8L1766.3 4418.9L1770.3 4401.8L1781 4346.6L1792 4280" fill="none" stroke="#808000" stroke-width="4.0" stroke-linejoin="round" stroke-linecap="round" clip-path="url(#cc)"/>
<path d="M416.1 3897.3L428.6 3913.8L416.1 3930.3L403.6 3913.8Z" fill="#000"/>
<path d="M503.7 3857L516.2 3873.5L503.7 3890L491.2 3873.5Z" fill="#000"/>
<path d="M596.5 3944.5L609 3961L596.5 3977.5L584 3961Z" fill="#000"/>
<path d="M1043.5 4434.5L1056 4451L1043.5 4467.5L1031 4451Z" fill="#000"/>
<path d="M1410.3 4206.9L1422.8 4223.4L1410.3 4239.9L1397.8 4223.4Z" fill="#000"/>
<path d="M1617.3 4422.1L1629.8 4438.6L1617.3 4455.1L1604.8 4438.6Z" fill="#000"/>
<rect x="333.3" y="3363.6" width="1449" height="1169.9" fill="none" stroke="#000" stroke-width="4.0"/>
<path d="M513.95 4533.5V4557.5M513.95 3363.6V3339.6M876.25 4533.5V4557.5M876.25 3363.6V3339.6M1238.55 4533.5V4557.5M1238.55 3363.6V3339.6M1600.85 4533.5V4557.5M1600.85 3363.6V3339.6M332.8 4533.5V4545.5M332.8 3363.6V3351.6M695.1 4533.5V4545.5M695.1 3363.6V3351.6M1057.4 4533.5V4545.5M1057.4 3363.6V3351.6M1419.7 4533.5V4545.5M1419.7 3363.6V3351.6M1782 4533.5V4545.5M1782 3363.6V3351.6M333.3 4093.7H309.3M1782.3 4093.7H1806.3M333.3 3363.9H309.3M1782.3 3363.9H1806.3M333.3 4458.6H321.3M1782.3 4458.6H1794.3M333.3 3728.8H321.3M1782.3 3728.8H1794.3" stroke="#000" stroke-width="3.6" fill="none"/>
<text x="513.95" y="4610.4" text-anchor="middle" font-size="48.6">4</text>
<text x="876.25" y="4610.4" text-anchor="middle" font-size="48.6">5</text>
<text x="1238.55" y="4610.4" text-anchor="middle" font-size="48.6">6</text>
<text x="1600.85" y="4610.4" text-anchor="middle" font-size="48.6">7</text>
<text x="292" y="4108.7" text-anchor="end" font-size="48.6">5000</text>
<text x="292" y="3378.9" text-anchor="end" font-size="48.6">10000</text>
<text x="353.5" y="3487.3" font-size="128" fill="#222">c</text>
<text x="424" y="3487.3" font-size="130" fill="#222" transform="translate(424 0) scale(0.88 1) translate(-424 0)">)</text>
<rect x="831" y="3391.6" width="507.2" height="84.6" fill="#fff"/>
<path d="M829.9 3391.6H1339.3" stroke="#888" stroke-width="2.2"/>
<path d="M829.9 3476.2H1339.3" stroke="#000" stroke-width="2.2"/>
<path d="M831 3390.5V3477.3" stroke="#000" stroke-width="2.2"/>
<path d="M1338.2 3390.5V3477.3" stroke="#000" stroke-width="2.2"/>
<path d="M836.3 3435H975.2" stroke="#808000" stroke-width="4.5"/>
<text x="993.5" y="3456" font-size="61">500°C, 200h</text>
<rect x="749.3" y="3541.5" width="640" height="240" fill="#fff"/>
<path d="M748.2 3541.5H1390.4" stroke="#8a8a8a" stroke-width="2.2"/>
<path d="M748.2 3781.5H1390.4" stroke="#8a8a8a" stroke-width="2.2"/>
<path d="M749.3 3540.4V3782.6" stroke="#000" stroke-width="2.2"/>
<path d="M1389.3 3540.4V3782.6" stroke="#000" stroke-width="2.2"/>
<path d="M780 3578L792.8 3594.5L780 3611L767.2 3594.5Z" fill="#000"/>
<text x="821" y="3610.5" font-size="61">minority phase = hcp</text>
<text x="756.6" y="3686.5" font-size="61">a = 0.252 nm</text>
<text x="756.4" y="3761" font-size="61">c = 0.411 nm</text>
<text y="4712.4" font-size="61"><tspan x="951.3">2</tspan><tspan x="1000.9" font-size="57">Θ</tspan><tspan x="1061.8">(</tspan><tspan x="1099.9" y="4706" font-size="52">°</tspan><tspan x="1144.3" y="4712.4">)</tspan></text>
<text transform="translate(88 3909) rotate(-90)" text-anchor="middle" font-size="61">Intensity (a.u.)</text>
</svg></body></html>
